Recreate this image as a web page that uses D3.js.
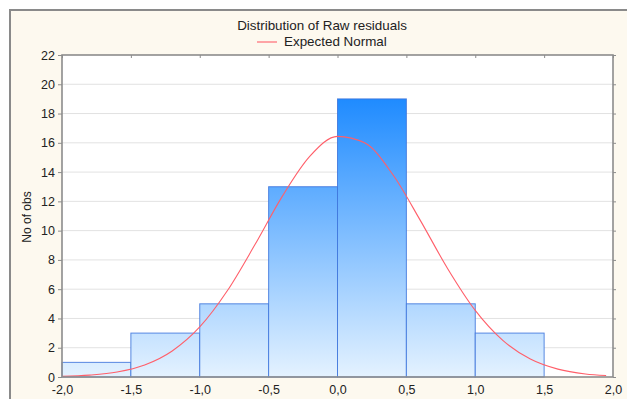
<!DOCTYPE html>
<html>
<head>
<meta charset="utf-8">
<script src="https://cdn.jsdelivr.net/npm/d3@7"></script>
<style>
  body { margin: 0; background: #fff; }
  text { font-family: "Liberation Sans", Arial, sans-serif; fill: #222; }
</style>
</head>
<body>
<div class="chart"></div>
<script>
// histogram bins (left edge, right edge, count)
var binStarts = [-2.0, -1.5, -1.0, -0.5, 0.0, 0.5, 1.0];
var binEnds   = [-1.5, -1.0, -0.5,  0.0, 0.5, 1.0, 1.5];
var counts    = [1, 3, 5, 13, 19, 5, 3];

// expected normal curve
var curveX = [-2.0, -1.8, -1.6, -1.4, -1.2, -1.0, -0.8, -0.6, -0.4, -0.2, 0.0, 0.2, 0.4, 0.6, 0.8, 1.0, 1.2, 1.4, 1.6, 1.8, 1.95];
var curveY = [0.04, 0.13, 0.34, 0.82, 1.78, 3.42, 5.89, 9.03, 12.36, 15.09, 16.44, 15.98, 13.85, 10.72, 7.40, 4.55, 2.50, 1.23, 0.54, 0.21, 0.10];

var xTicks = [-2.0, -1.5, -1.0, -0.5, 0.0, 0.5, 1.0, 1.5, 2.0];
var yTicks = [0, 2, 4, 6, 8, 10, 12, 14, 16, 18, 20, 22];

const W = 627, H = 399;
const plot = { left: 62, right: 613, top: 55, bottom: 377 };

var svg = d3.select('.chart')
  .append('svg')
    .attr('width', W)
    .attr('height', H);

// outer panel
svg.append('rect')
  .attr('x', 10).attr('y', 10)
  .attr('width', 640).attr('height', 420)
  .attr('fill', '#fdf9ef')
  .attr('stroke', '#8a8a8a')
  .attr('stroke-width', 2);

var defs = svg.append('defs');

var xScale = d3.scaleLinear()
  .domain([-2, 2])
  .range([plot.left, plot.right]);

var yScale = d3.scaleLinear()
  .domain([0, 22])
  .range([plot.bottom, plot.top]);

var grad = defs.append('linearGradient')
  .attr('id', 'barGrad')
  .attr('gradientUnits', 'userSpaceOnUse')
  .attr('x1', 0).attr('x2', 0)
  .attr('y1', yScale(19)).attr('y2', yScale(0));
grad.append('stop').attr('offset', '0%').attr('stop-color', '#1f8bff');
grad.append('stop').attr('offset', '100%').attr('stop-color', '#e4f2ff');

// plot background
svg.append('rect')
  .attr('x', plot.left).attr('y', plot.top)
  .attr('width', plot.right - plot.left)
  .attr('height', plot.bottom - plot.top)
  .attr('fill', '#fff');

// gridlines
svg.append('g')
  .selectAll('line')
  .data(yTicks.slice(1, -1))
  .enter().append('line')
    .attr('x1', plot.left).attr('x2', plot.right)
    .attr('y1', d => yScale(d)).attr('y2', d => yScale(d))
    .attr('stroke', '#e2e2e2');

// bars
svg.append('g')
  .selectAll('rect')
  .data(counts)
  .enter().append('rect')
    .attr('x', (d, i) => xScale(binStarts[i]))
    .attr('width', (d, i) => xScale(binEnds[i]) - xScale(binStarts[i]))
    .attr('y', d => yScale(d))
    .attr('height', d => yScale(0) - yScale(d))
    .attr('fill', 'url(#barGrad)')
    .attr('stroke', '#3d74dc')
    .attr('stroke-opacity', 0.85);

// normal curve
var line = d3.line()
  .x((d, i) => xScale(curveX[i]))
  .y(d => yScale(d))
  .curve(d3.curveMonotoneX);

svg.append('path')
  .datum(curveY)
  .attr('d', line)
  .attr('fill', 'none')
  .attr('stroke', '#ff5f6a')
  .attr('stroke-width', 1.1);

// frame
svg.append('rect')
  .attr('x', plot.left).attr('y', plot.top)
  .attr('width', plot.right - plot.left)
  .attr('height', plot.bottom - plot.top)
  .attr('fill', 'none')
  .attr('stroke', '#8c8c8c')
  .attr('stroke-width', 1.6);

// axes
svg.append('g')
  .attr('transform', `translate(${plot.left}, 0)`)
  .call(d3.axisLeft(yScale).tickValues(yTicks).tickSize(4).tickPadding(3).tickFormat(d3.format('d')));
svg.append('g')
  .attr('transform', `translate(0, ${plot.bottom})`)
  .call(d3.axisBottom(xScale).tickValues(xTicks).tickSize(0).tickPadding(8)
    .tickFormat(d => d3.format('.1f')(d).replace('.', ',').replace('−', '-')));
svg.append('g')
  .attr('transform', `translate(0, ${plot.top})`)
  .call(d3.axisTop(xScale).tickValues(xTicks).tickSize(-3).tickFormat(''));
svg.append('g')
  .attr('transform', `translate(${plot.right}, 0)`)
  .call(d3.axisRight(yScale).tickValues(yTicks).tickSize(3).tickFormat(''));

svg.selectAll('.domain').remove();
svg.selectAll('.tick line').attr('stroke', '#8c8c8c');
svg.selectAll('.tick text')
  .style('font-family', '"Liberation Sans", Arial, sans-serif')
  .style('font-size', '12.5px')
  .attr('fill', '#1a1a1a');

// y label
svg.append('text')
  .attr('transform', 'translate(31, 217) rotate(-90)')
  .attr('text-anchor', 'middle')
  .style('font-size', '12px')
  .text('No of obs');

// title and legend
svg.append('text')
  .attr('x', 322).attr('y', 30)
  .attr('text-anchor', 'middle')
  .style('font-size', '13.4px')
  .text('Distribution of Raw residuals');

svg.append('line')
  .attr('x1', 257).attr('x2', 277)
  .attr('y1', 42).attr('y2', 42)
  .attr('stroke', '#ff5f6a')
  .attr('stroke-width', 1.1);
svg.append('text')
  .attr('x', 284).attr('y', 46)
  .style('font-size', '13.4px')
  .text('Expected Normal');
</script>
</body>
</html>
